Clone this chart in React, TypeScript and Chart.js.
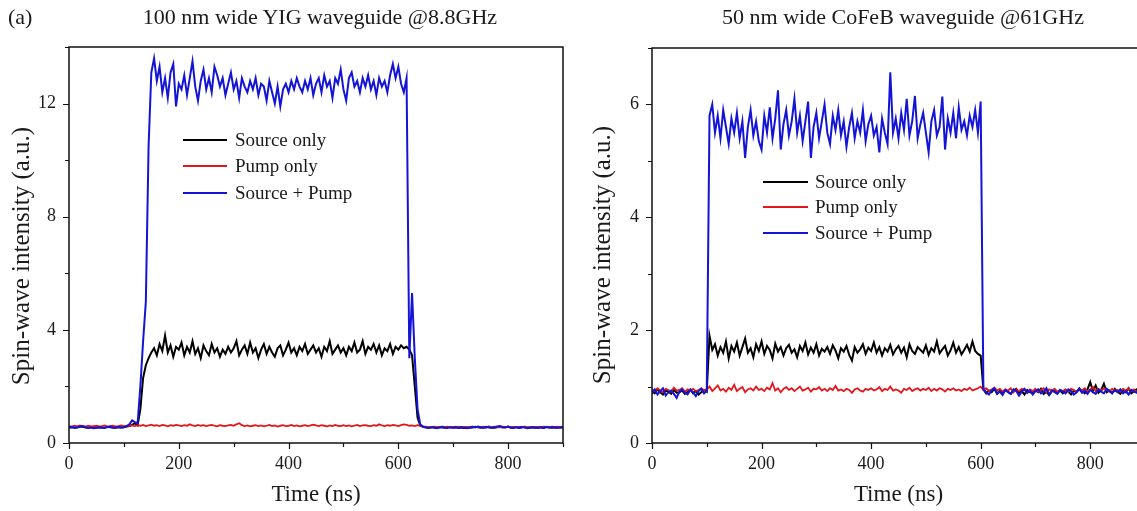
import React, { useEffect, useRef } from "react";
import { Chart, registerables } from "chart.js";

Chart.register(...registerables);

const FONT = "'Liberation Serif', 'Times New Roman', Times, serif";
const TEXT = "#1a1a1a";
const BLUE = "#1414d6";
const RED = "#e3161b";
const BLACK = "#000000";

// sampling grid of the traces (ns)
const SAMPLE_STEP_NS = 5;
const SAMPLE_COUNT = 181;
const TIME_NS = Array.from({ length: SAMPLE_COUNT }, (_, i) => i * SAMPLE_STEP_NS);

const X_TICKS = [0, 100, 200, 300, 400, 500, 600, 700, 800, 900];
const X_LABELED = [0, 200, 400, 600, 800];
const YIG_Y_TICKS = [0, 2, 4, 6, 8, 10, 12, 14];
const YIG_Y_LABELED = [0, 4, 8, 12];
const COFEB_Y_TICKS = [0, 1, 2, 3, 4, 5, 6, 7];
const COFEB_Y_LABELED = [0, 2, 4, 6];

const SERIES_LABELS = ["Source only", "Pump only", "Source + Pump"];
const PANEL_TITLES = ["100 nm wide YIG waveguide @8.8GHz", "50 nm wide CoFeB waveguide @61GHz"];
const X_TITLE = "Time (ns)";
const Y_TITLE = "Spin-wave intensity (a.u.)";

// ---- 100 nm YIG @ 8.8 GHz (rows of 10 samples = 50 ns each) ----
const YIG_SOURCE_PUMP = [
  0.55, 0.57, 0.54, 0.56, 0.58, 0.6, 0.56, 0.53, 0.55, 0.52,
  0.54, 0.56, 0.55, 0.53, 0.56, 0.58, 0.54, 0.55, 0.57, 0.55,
  0.56, 0.6, 0.66, 0.8, 0.74, 0.7, 2.0, 3.6, 5.0, 10.5,
  13.1, 13.6, 12.8, 13.3, 12.4, 12.9, 12.2, 13.1, 13.4, 11.9,
  12.7, 12.5, 13.0, 12.3, 12.9, 13.5, 12.6, 12.1, 12.8, 13.2,
  12.5, 12.9, 12.4, 13.3, 13.0, 12.6, 12.9, 12.3, 12.7, 13.1,
  12.5, 12.8, 12.2, 12.9, 12.6, 12.4, 12.8, 12.5, 12.9, 12.3,
  12.7, 12.6, 12.1, 12.8, 12.4, 12.0, 12.6, 11.9, 12.5, 12.7,
  12.4, 12.8, 12.5, 12.9, 12.6, 12.4, 12.8, 12.5, 12.9, 12.3,
  12.7, 12.9, 12.4, 13.0, 12.6, 12.8, 12.2, 12.9, 12.7, 13.2,
  12.5, 12.1, 12.9, 13.1, 12.6, 12.8, 12.4, 12.9, 12.6, 13.0,
  12.5, 12.8, 12.3, 12.9, 12.6, 12.8, 12.4, 13.0, 13.4, 12.9,
  13.3, 12.7, 12.4, 12.9, 3.0, 5.3, 3.0, 1.2, 0.65, 0.58,
  0.55, 0.53, 0.56, 0.54, 0.52, 0.55, 0.57, 0.54, 0.53, 0.56,
  0.54, 0.55, 0.53, 0.56, 0.54, 0.52, 0.55, 0.57, 0.55, 0.58,
  0.56, 0.54, 0.57, 0.55, 0.53, 0.56, 0.58, 0.6, 0.57, 0.55,
  0.58, 0.55, 0.53, 0.56, 0.54, 0.57, 0.55, 0.52, 0.54, 0.56,
  0.55, 0.53, 0.56, 0.54, 0.57, 0.55, 0.53, 0.56, 0.54, 0.55,
  0.56,
];

const YIG_SOURCE_ONLY = [
  0.55, 0.56, 0.54, 0.55, 0.57, 0.58, 0.55, 0.54, 0.56, 0.53,
  0.55, 0.56, 0.54, 0.55, 0.57, 0.56, 0.55, 0.54, 0.56, 0.55,
  0.56, 0.58, 0.6, 0.64, 0.7, 0.62, 1.2, 2.3, 2.75, 3.0,
  3.2, 3.35, 3.1, 3.5, 3.25, 3.8, 3.2, 3.45, 3.05, 3.4,
  3.3, 3.55, 3.1, 3.4, 3.2, 3.6, 3.15, 3.35, 3.0, 3.45,
  3.25, 3.1, 3.5, 3.2, 3.35, 3.05, 3.3, 3.15, 3.4, 3.2,
  3.35, 3.6, 3.1, 3.3, 3.45, 3.15, 3.55, 3.2, 3.35, 3.0,
  3.3, 3.5, 3.15, 3.4, 3.2, 3.05, 3.35, 3.45, 3.1, 3.3,
  3.55, 3.2, 3.35, 3.1, 3.4, 3.25, 3.5, 3.15, 3.3, 3.45,
  3.2, 3.35, 3.05, 3.4, 3.25, 3.6, 3.15, 3.3, 3.45, 3.2,
  3.35, 3.1, 3.4, 3.25, 3.55, 3.2, 3.3, 3.6, 3.15, 3.4,
  3.3, 3.5, 3.2, 3.45, 3.1, 3.35, 3.25, 3.5, 3.15, 3.4,
  3.3, 3.45, 3.35, 3.4, 3.3, 3.1, 2.0, 0.9, 0.62, 0.57,
  0.56, 0.54, 0.55, 0.57, 0.53, 0.56, 0.55, 0.54, 0.57, 0.55,
  0.55, 0.57, 0.54, 0.55, 0.53, 0.56, 0.54, 0.55, 0.57, 0.56,
  0.54, 0.56, 0.55, 0.58, 0.55, 0.54, 0.56, 0.57, 0.55, 0.56,
  0.57, 0.54, 0.55, 0.56, 0.53, 0.55, 0.57, 0.54, 0.56, 0.55,
  0.54, 0.56, 0.55, 0.53, 0.56, 0.55, 0.57, 0.54, 0.55, 0.56,
  0.55,
];

const YIG_PUMP_ONLY = [
  0.6, 0.58, 0.61, 0.59, 0.62, 0.6, 0.58, 0.61, 0.59, 0.6,
  0.61, 0.59, 0.6, 0.62, 0.58, 0.6, 0.61, 0.59, 0.6, 0.62,
  0.6, 0.58, 0.61, 0.62, 0.6, 0.63, 0.61, 0.64, 0.6, 0.62,
  0.65, 0.61, 0.63, 0.6, 0.64, 0.62, 0.59, 0.63, 0.61, 0.64,
  0.62, 0.6, 0.63, 0.61, 0.66, 0.62, 0.6, 0.64, 0.61, 0.63,
  0.6, 0.62, 0.64, 0.61, 0.59, 0.63, 0.61, 0.6, 0.62, 0.64,
  0.61, 0.66, 0.7, 0.63, 0.6, 0.62, 0.59, 0.61, 0.63, 0.6,
  0.62, 0.59, 0.61, 0.64, 0.6, 0.62, 0.58, 0.61, 0.63, 0.6,
  0.61, 0.64, 0.6, 0.62, 0.59, 0.61, 0.63, 0.6, 0.62, 0.65,
  0.62, 0.6, 0.63, 0.61, 0.59, 0.62, 0.6, 0.64, 0.61, 0.6,
  0.63, 0.6, 0.62, 0.59, 0.61, 0.64, 0.6, 0.62, 0.63, 0.61,
  0.6, 0.63, 0.61, 0.66, 0.62, 0.6, 0.63, 0.61, 0.64, 0.62,
  0.6, 0.63, 0.66, 0.64, 0.61, 0.62, 0.6, 0.63, 0.61, 0.59,
  0.58, 0.56, 0.57, 0.55, 0.57, 0.56, 0.58, 0.55, 0.57, 0.56,
  0.57, 0.55, 0.58, 0.56, 0.57, 0.55, 0.56, 0.58, 0.56, 0.57,
  0.56, 0.58, 0.55, 0.57, 0.56, 0.58, 0.56, 0.55, 0.57, 0.56,
  0.58, 0.56, 0.57, 0.55, 0.57, 0.56, 0.58, 0.56, 0.55, 0.57,
  0.56, 0.57, 0.55, 0.58, 0.56, 0.57, 0.55, 0.56, 0.58, 0.56,
  0.57,
];

// ---- 50 nm CoFeB @ 61 GHz ----
const COFEB_SOURCE_PUMP = [
  0.88, 0.95, 0.86, 0.92, 0.97, 0.84, 0.9, 0.93, 0.87, 0.8,
  0.91, 0.95, 0.89, 0.86, 0.94, 0.9, 0.83, 0.92, 0.96, 0.88,
  0.93, 5.8, 6.0, 5.5, 5.8, 5.4, 5.9, 5.6, 5.3, 5.75,
  5.5, 5.85, 5.4, 5.7, 5.05, 5.6, 5.9, 5.45, 5.7, 5.35,
  5.2, 5.8, 5.5, 5.95, 5.4, 5.75, 6.25, 5.2, 5.65, 5.9,
  5.45, 5.7, 6.1, 5.5, 5.8, 5.35, 5.7, 6.05, 5.05, 5.6,
  5.85, 5.4, 5.7, 6.0, 5.5, 5.3, 5.8, 5.55, 5.9, 5.45,
  5.7, 5.25, 5.6, 5.85, 5.4, 5.7, 5.5, 5.9, 5.35, 5.65,
  5.8, 5.45, 5.6, 5.15, 5.75, 5.5, 5.3, 6.57, 5.5, 5.75,
  5.4, 5.85, 5.55, 6.1, 5.45, 5.7, 6.15, 5.4, 5.65, 5.85,
  5.5, 5.15, 5.7, 5.9, 5.45, 5.6, 6.14, 5.2, 5.75, 5.5,
  5.85, 5.4, 5.95, 5.55, 5.7, 5.45, 5.8, 5.6, 5.9, 5.5,
  6.05, 0.95, 0.9, 0.86, 0.93, 0.97, 0.88, 0.91, 0.85, 0.94,
  0.9, 0.87, 0.95, 0.92, 0.84, 0.91, 0.96, 0.89, 0.93, 0.86,
  0.92, 0.95, 0.88, 0.91, 0.97, 0.86, 0.93, 0.9, 0.87, 0.94,
  0.91, 0.88, 0.95, 0.92, 0.86, 0.9, 0.96, 0.89, 0.93, 0.87,
  0.94, 0.9, 0.87, 0.95, 0.91, 0.88, 0.96, 0.92, 0.89, 0.93,
  0.9, 0.95, 0.88, 0.92, 0.86, 0.94, 0.91, 0.89, 0.96, 0.9,
  0.92,
];

const COFEB_SOURCE_ONLY = [
  0.92, 0.88, 0.95, 0.9, 0.86, 0.93, 0.91, 0.87, 0.94, 0.89,
  0.9, 0.93, 0.87, 0.91, 0.95, 0.88, 0.92, 0.86, 0.9, 0.94,
  0.91, 1.9, 1.65, 1.75, 1.55, 1.7, 1.6, 1.8, 1.5, 1.72,
  1.62, 1.78, 1.55, 1.7, 1.85, 1.6, 1.68, 1.52, 1.75, 1.63,
  1.8, 1.58, 1.72, 1.65, 1.5, 1.76, 1.62, 1.7, 1.55, 1.68,
  1.74, 1.6, 1.66, 1.52, 1.72, 1.63, 1.78, 1.57, 1.69, 1.6,
  1.75, 1.55, 1.67, 1.62, 1.7, 1.58, 1.73, 1.64, 1.5, 1.68,
  1.62, 1.72, 1.56, 1.46, 1.7, 1.6, 1.66, 1.75, 1.58, 1.69,
  1.63, 1.78, 1.6, 1.7, 1.55, 1.68, 1.62, 1.74, 1.57, 1.66,
  1.72, 1.6, 1.69, 1.52, 1.75, 1.63, 1.58, 1.7, 1.65, 1.6,
  1.73, 1.56, 1.68, 1.62, 1.8, 1.59, 1.66, 1.72, 1.55, 1.64,
  1.78, 1.6, 1.7, 1.57, 1.65, 1.74, 1.62, 1.8, 1.63, 1.58,
  1.55, 0.95, 0.88, 0.93, 0.9, 0.96, 0.87, 0.92, 0.89, 0.94,
  0.91, 0.87, 0.93, 0.96, 0.89, 0.92, 0.86, 0.94, 0.9, 0.88,
  0.93, 0.9, 0.96, 0.87, 0.91, 0.85, 0.92, 0.95, 0.89, 0.93,
  0.88, 0.94, 0.91, 0.86, 0.93, 0.9, 0.97, 0.92, 0.88, 0.95,
  1.08, 0.92, 1.02, 0.89, 0.94, 1.05, 0.9, 0.93, 0.88, 0.96,
  0.91, 0.87, 0.94, 0.9, 0.97, 0.88, 0.92, 0.95, 0.89, 0.93,
  0.9,
];

const COFEB_PUMP_ONLY = [
  0.95, 0.92, 0.97, 0.93, 0.9, 0.96, 0.94, 0.91, 0.98, 0.93,
  0.94, 0.97, 0.91, 0.95, 0.93, 0.96, 0.92, 0.94, 0.97, 0.93,
  0.95, 1.0, 0.92, 0.97, 1.02, 0.93, 0.96, 0.91, 0.98, 0.94,
  1.03, 0.92, 0.96, 0.99, 0.9, 0.95, 0.97, 0.93, 1.0, 0.94,
  0.96, 0.92, 0.98, 0.95, 1.06, 0.93, 0.97, 0.9, 0.96, 0.99,
  0.94, 0.97, 0.92, 0.96, 1.0, 0.93, 0.95, 0.98, 0.91, 0.96,
  0.95, 0.99, 0.93, 0.96, 0.92, 0.97, 0.94, 1.01, 0.93, 0.95,
  0.92, 0.96, 0.94, 0.89, 0.95, 0.97, 0.93, 0.91, 0.96, 0.94,
  0.97, 0.93, 0.95, 0.99, 0.92, 0.96, 0.94, 1.0, 0.93, 0.95,
  0.93, 0.89, 0.96, 0.94, 0.98, 0.92, 0.95, 0.97, 0.93, 0.96,
  0.94, 0.98, 0.92, 0.96, 0.93, 0.97, 0.95, 0.91, 0.96, 0.94,
  0.97, 0.93, 0.95, 0.92, 0.96, 0.94, 0.98, 0.93, 0.95, 0.97,
  1.0, 0.94, 0.97, 0.92, 0.95, 0.98, 0.93, 0.96, 0.91, 0.95,
  0.93, 0.97, 0.9, 0.95, 0.92, 0.96, 0.94, 0.89, 0.95, 0.92,
  0.96, 0.91, 0.94, 0.97, 0.9, 0.95, 0.93, 0.96, 0.91, 0.94,
  0.92, 0.95, 0.9, 0.96, 0.94, 0.91, 0.95, 0.93, 0.97, 0.92,
  0.95, 0.99, 0.92, 0.96, 0.93, 0.97, 0.94, 0.91, 0.96, 0.93,
  0.94, 0.91, 0.96, 0.93, 0.97, 0.92, 0.95, 0.9, 0.94, 0.96,
  0.93,
];

const toPoints = (vals: number[]) => vals.map((y, i) => ({ x: TIME_NS[i], y }));

type PanelProps = {
  left: number;
  width: number;
  area: { left: number; right: number; top: number; bottom: number };
  yMax: number;
  yTicks: number[];
  yLabeled: number[];
  sourceOnly: number[];
  pumpOnly: number[];
  sourcePump: number[];
  legend: { x0: number; x1: number; tx: number; rows: number[] };
  yTitlePos: { x: number; y: number };
};

const H = 511;

function Panel(p: PanelProps) {
  const ref = useRef<HTMLCanvasElement | null>(null);
  useEffect(() => {
    const canvas = ref.current;
    if (!canvas) return;
    const framePlugin = {
      id: "frameTicksLegend",
      afterDraw(chart: any) {
        const { ctx, chartArea: a, scales } = chart;
        const xs = scales.x;
        const ys = scales.y;
        ctx.save();
        ctx.strokeStyle = "#111";
        ctx.lineWidth = 1.5;
        ctx.strokeRect(a.left, a.top, a.right - a.left, a.bottom - a.top);
        ctx.lineWidth = 1.2;
        ctx.beginPath();
        X_TICKS.forEach((v) => {
          const px = Math.round(xs.getPixelForValue(v)) + 0.5;
          const len = X_LABELED.includes(v) ? 6 : 4;
          ctx.moveTo(px, a.bottom);
          ctx.lineTo(px, a.bottom + len);
        });
        p.yTicks.forEach((v) => {
          const py = Math.round(ys.getPixelForValue(v)) + 0.5;
          const len = p.yLabeled.includes(v) ? 6 : 4;
          ctx.moveTo(a.left, py);
          ctx.lineTo(a.left - len, py);
        });
        ctx.stroke();
        // y-axis title
        ctx.save();
        ctx.translate(p.yTitlePos.x, p.yTitlePos.y);
        ctx.rotate(-Math.PI / 2);
        ctx.font = `25px ${FONT}`;
        ctx.fillStyle = TEXT;
        ctx.textAlign = "center";
        ctx.textBaseline = "middle";
        ctx.fillText(Y_TITLE, 0, 0);
        ctx.restore();
        // inline legend
        const colors = [BLACK, RED, BLUE];
        ctx.font = `19px ${FONT}`;
        ctx.textBaseline = "middle";
        ctx.textAlign = "left";
        SERIES_LABELS.forEach((lab, i) => {
          const y = p.legend.rows[i];
          ctx.strokeStyle = colors[i];
          ctx.lineWidth = 1.8;
          ctx.beginPath();
          ctx.moveTo(p.legend.x0, y);
          ctx.lineTo(p.legend.x1, y);
          ctx.stroke();
          ctx.fillStyle = TEXT;
          ctx.fillText(lab, p.legend.tx, y + 1);
        });
        ctx.restore();
      },
    };
    const line = (label: string, vals: number[], color: string, w: number) => ({
      label,
      data: toPoints(vals),
      borderColor: color,
      borderWidth: w,
      pointRadius: 0,
      tension: 0,
      fill: false,
    });
    const chart = new Chart(canvas, {
      type: "line",
      data: {
        datasets: [
          line(SERIES_LABELS[2], p.sourcePump, BLUE, 2),
          line(SERIES_LABELS[1], p.pumpOnly, RED, 1.8),
          line(SERIES_LABELS[0], p.sourceOnly, BLACK, 2),
        ],
      },
      options: {
        animation: false,
        responsive: false,
        events: [],
        layout: { padding: { left: 0, top: p.area.top, right: p.width - p.area.right, bottom: 0 } },
        plugins: { legend: { display: false }, tooltip: { enabled: false }, title: { display: false } },
        scales: {
          x: {
            type: "linear",
            min: 0,
            max: 900,
            afterBuildTicks: (s: any) => {
              s.ticks = X_TICKS.map((v) => ({ value: v }));
            },
            afterFit: (s: any) => {
              s.height = H - p.area.bottom;
            },
            ticks: {
              autoSkip: false,
              maxRotation: 0,
              padding: 10,
              color: TEXT,
              font: { family: FONT, size: 18 },
              callback: (v: any) => (X_LABELED.includes(Number(v)) ? String(v) : ""),
            },
            grid: { display: false, drawTicks: false },
            border: { display: false },
            title: {
              display: true,
              text: X_TITLE,
              color: TEXT,
              font: { family: FONT, size: 23 },
              padding: { top: 0, bottom: 2 },
            },
          },
          y: {
            type: "linear",
            min: 0,
            max: p.yMax,
            afterBuildTicks: (s: any) => {
              s.ticks = p.yTicks.map((v) => ({ value: v }));
            },
            afterFit: (s: any) => {
              s.width = p.area.left;
            },
            ticks: {
              autoSkip: false,
              padding: 13,
              color: TEXT,
              font: { family: FONT, size: 18 },
              callback: (v: any) => (p.yLabeled.includes(Number(v)) ? String(v) : ""),
            },
            grid: { display: false, drawTicks: false },
            border: { display: false },
            title: { display: false },
          },
        },
      },
      plugins: [framePlugin],
    } as any);
    return () => chart.destroy();
  }, []);
  return (
    <canvas
      ref={ref}
      width={p.width}
      height={H}
      style={{ position: "absolute", left: p.left, top: 0, width: p.width, height: H }}
    />
  );
}

const titleStyle = (center: number): React.CSSProperties => ({
  position: "absolute",
  left: center - 300,
  width: 600,
  top: 6,
  textAlign: "center",
  fontFamily: FONT,
  fontSize: 22,
  lineHeight: "22px",
  color: TEXT,
  whiteSpace: "nowrap",
});

export default function App() {
  return (
    <div
      style={{
        position: "fixed",
        left: 0,
        top: 0,
        width: 1137,
        height: H,
        overflow: "hidden",
        background: "#fff",
      }}
    >
      <Panel
        left={0}
        width={580}
        area={{ left: 69, right: 563, top: 47, bottom: 443 }}
        yMax={14}
        yTicks={YIG_Y_TICKS}
        yLabeled={YIG_Y_LABELED}
        sourceOnly={YIG_SOURCE_ONLY}
        pumpOnly={YIG_PUMP_ONLY}
        sourcePump={YIG_SOURCE_PUMP}
        legend={{ x0: 183, x1: 227, tx: 235, rows: [140, 166, 193] }}
        yTitlePos={{ x: 22, y: 256 }}
      />
      <Panel
        left={580}
        width={580}
        area={{ left: 72, right: 565, top: 48, bottom: 443 }}
        yMax={7}
        yTicks={COFEB_Y_TICKS}
        yLabeled={COFEB_Y_LABELED}
        sourceOnly={COFEB_SOURCE_ONLY}
        pumpOnly={COFEB_PUMP_ONLY}
        sourcePump={COFEB_SOURCE_PUMP}
        legend={{ x0: 183, x1: 228, tx: 235, rows: [182, 207, 233] }}
        yTitlePos={{ x: 23, y: 255 }}
      />
      <div style={{ ...titleStyle(20), left: 8, width: "auto", textAlign: "left" }}>(a)</div>
      <div style={titleStyle(320)}>{PANEL_TITLES[0]}</div>
      <div style={titleStyle(903)}>{PANEL_TITLES[1]}</div>
    </div>
  );
}
